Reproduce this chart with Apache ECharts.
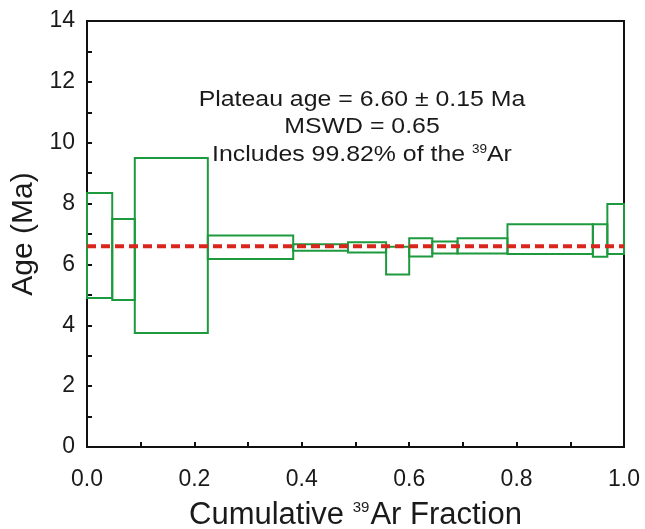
<!DOCTYPE html>
<html>
<head>
<meta charset="utf-8">
<script src="https://cdn.jsdelivr.net/npm/echarts@6/dist/echarts.min.js"></script>
<style>
	html,body{margin:0;padding:0;background:#fff;}
	#main{width:645px;height:529px;}
</style>
</head>
<body>
<div id="main"></div>
<script>
	// heating steps: cumulative 39Ar fraction (from/to) and age range (Ma)
	var stepFrom = [0.000, 0.047, 0.089, 0.225, 0.384, 0.486, 0.557, 0.600, 0.643, 0.690, 0.783, 0.942, 0.969];
	var stepTo   = [0.047, 0.089, 0.225, 0.384, 0.486, 0.557, 0.600, 0.643, 0.690, 0.783, 0.942, 0.969, 1.000];
	var ageLow   = [4.90, 4.83, 3.75, 6.18, 6.45, 6.39, 5.67, 6.26, 6.36, 6.36, 6.34, 6.25, 6.34];
	var ageHigh  = [8.35, 7.49, 9.50, 6.95, 6.66, 6.73, 6.58, 6.86, 6.75, 6.86, 7.32, 7.32, 7.99];
	var plateauAge = 6.60;
	var plateauSpan = [0, 1];

	var steps = [];
	for (var i = 0; i < stepFrom.length; i++) {
		steps.push([stepFrom[i], stepTo[i], ageLow[i], ageHigh[i]]);
	}

	var font = 'Liberation Sans, Arial, sans-serif';
	var ink = '#1a1a1a';
	var myChart = echarts.init(document.getElementById('main'));

	function note(y, text) {
		return {
			type: 'text', x: 362, y: y, scaleX: 1.13,
			style: {
				text: text, fill: ink, fontSize: 22, fontFamily: font,
				align: 'center', verticalAlign: 'middle',
				rich: {
					n: {fontSize: 22, fontFamily: font, fill: ink},
					s: {fontSize: 12, fontFamily: font, fill: ink, verticalAlign: 'top'}
				}
			}
		};
	}

	var option = {
		animation: false,
		backgroundColor: '#fff',
		textStyle: {fontFamily: font},
		grid: {
			left: 87, right: 21, top: 21, bottom: 82,
			containLabel: false, outerBoundsMode: 'none',
			show: true, borderColor: '#111', borderWidth: 2
		},
		xAxis: {
			type: 'value',
			min: 0, max: 1, interval: 0.2,
			name: '{n|Cumulative }{s|39}{n|Ar Fraction}',
			nameLocation: 'middle',
			nameGap: 53,
			nameTextStyle: {
				color: ink, fontFamily: font, fontSize: 31,
				rich: {
					n: {fontSize: 31, fontFamily: font, color: ink},
					s: {fontSize: 15, fontFamily: font, color: ink, verticalAlign: 'top', padding: [0, 1, 0, 0]}
				}
			},
			axisLine: {lineStyle: {color: '#111', width: 2}},
			axisTick: {inside: true, length: 5, lineStyle: {color: '#111', width: 2}},
			minorTick: {show: true, splitNumber: 2, length: 5, lineStyle: {color: '#111', width: 2}},
			axisLabel: {
				color: ink, fontSize: 23, margin: 21, fontFamily: font,
				formatter: function (v) { return v.toFixed(1); }
			},
			splitLine: {show: false}
		},
		yAxis: {
			type: 'value',
			min: 0, max: 14, interval: 2,
			name: 'Age (Ma)',
			nameLocation: 'middle',
			nameGap: 48,
			nameTextStyle: {color: ink, fontSize: 30, fontFamily: font},
			axisLine: {lineStyle: {color: '#111', width: 2}},
			axisTick: {inside: true, length: 5, lineStyle: {color: '#111', width: 2}},
			minorTick: {show: true, splitNumber: 2, length: 5, lineStyle: {color: '#111', width: 2}},
			axisLabel: {color: ink, fontSize: 23, margin: 12, fontFamily: font},
			splitLine: {show: false}
		},
		graphic: [
			note(100, 'Plateau age = 6.60 \u00b1 0.15 Ma'),
			note(127, 'MSWD = 0.65'),
			note(155, '{n|Includes 99.82% of the }{s|39}{n|Ar}')
		],
		series: [
			{
				type: 'custom',
				data: steps,
				encode: {x: [0, 1], y: [2, 3]},
				renderItem: function (params, api) {
					var p1 = api.coord([api.value(0), api.value(3)]);
					var p2 = api.coord([api.value(1), api.value(2)]);
					return {
						type: 'rect',
						shape: {x: p1[0], y: p1[1], width: p2[0] - p1[0], height: p2[1] - p1[1]},
						style: {fill: 'none', stroke: '#1e9a3e', lineWidth: 2}
					};
				},
				z: 2
			},
			{
				type: 'line',
				data: [[plateauSpan[0], plateauAge], [plateauSpan[1], plateauAge]],
				symbol: 'none',
				lineStyle: {color: '#d8261c', width: 4, type: [9, 5]},
				z: 3
			}
		]
	};

	option && myChart.setOption(option);
</script>
</body>
</html>
